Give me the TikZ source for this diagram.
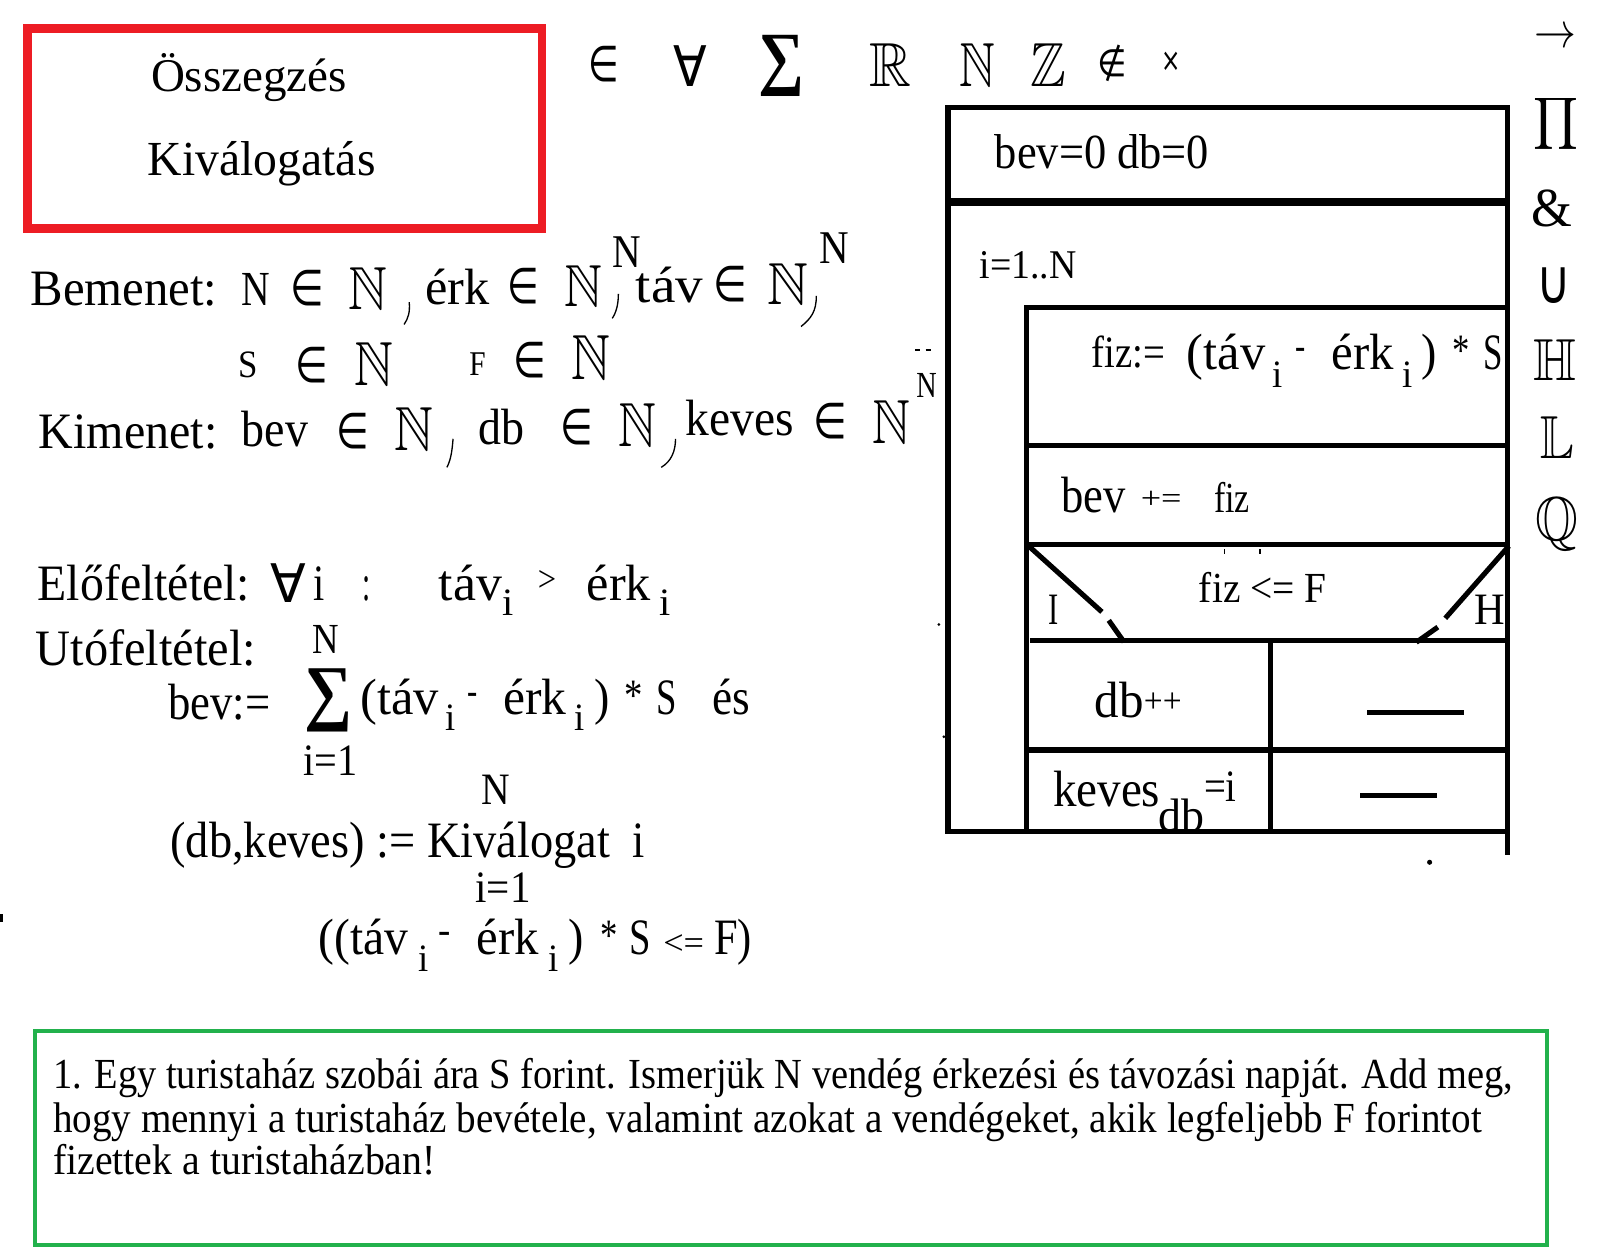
\documentclass[tikz,border=0pt]{standalone}
\usepackage{amssymb}
\usepackage{graphicx}
\usepackage{fontspec}
\setmainfont{Liberation Serif}
\newfontfamily\dv{DejaVu Sans}
\definecolor{pred}{HTML}{ED1C24}
\definecolor{pgreen}{HTML}{22B14C}
\newcommand\TX[5]{\node[txt] (#1) at (#2) {\resizebox{#4pt}{\height}{\fontsize{#3pt}{#3pt}\selectfont #5}};}
\newcommand\SY[5]{\node[sym] (#1) at (#2) {\resizebox*{#3pt}{#4pt}{#5}};}
\newcommand\bsum{{\bfseries ∑}}
\newcommand\ein{{\dv ∈}}
\newcommand\fa{{\dv ∀}}
\tikzset{
 txt/.style={anchor=base west, inner sep=0pt, outer sep=0pt},
 sym/.style={anchor=south west, inner sep=0pt, outer sep=0pt},
 nsd/.style={line width=5pt, line cap=rect},
 squig/.style={line width=1.3pt},
}
\begin{document}
\begin{tikzpicture}[x=1pt,y=-1pt]
\useasboundingbox (0,0) rectangle (1568,1231);
\fill[white] (0,0) rectangle (1568,1231);
% red box
\draw[pred, line width=8pt] (27,28) rectangle (531,224);
\TX{osz}{148,90}{46}{192}{Összegzés}
\TX{kiv}{145,172}{48}{223}{Kiválogatás}
% top symbols
\SY{s1}{577,80}{30}{35}{\ein}
\SY{s2}{660,85}{33}{40}{\fa}
\SY{s3}{743,95}{45}{60}{\bsum}
\SY{s4}{852,85}{41}{42}{$\mathbb{R}$}
\SY{s5}{940,85}{35}{42}{$\mathbb{N}$}
\SY{s6}{1010,85}{35}{42}{$\mathbb{Z}$}
\SY{s7}{1076,80}{29}{36}{{\dv ∉}}
\SY{s8}{1138,70}{19}{19}{{\dv ×}}
\SY{s9}{1504,47}{41}{18}{$\rightarrow$}
\SY{s10}{1503,150}{44}{57}{$\displaystyle\prod$}
\TX{s11}{1501,222}{54}{40}{\&}
\SY{s12}{1506,297}{34}{35}{{\dv ∪}}
\SY{s13}{1503,373}{42}{40}{$\mathbb{H}$}
\SY{s14}{1510,449}{33}{41}{$\mathbb{L}$}
\SY{s15}{1505,540}{42}{52}{$\mathbb{Q}$}
% Bemenet
\TX{bem}{30,299}{50}{183}{Bemenet:}
\TX{b1}{237,299}{48}{28}{N}
\SY{b2}{285,300}{33}{35}{\ein}
\SY{b3}{342,303}{38}{41}{$\mathbb{N}$}
\TX{b4}{417,298}{50}{63}{érk}
\SY{b5}{497,298}{31}{35}{\ein}
\SY{b6}{553,300}{37}{40}{$\mathbb{N}$}
\TX{b7}{600,262}{46}{28}{N}
\TX{b8}{623,296}{50}{66}{táv}
\SY{b9}{699,296}{33}{35}{\ein}
\SY{b10}{752,298}{40}{40}{$\mathbb{N}$}
\TX{b11}{803,258}{46}{29}{N}
\draw[squig] (401,296) .. controls (402,306) and (400,312) .. (396,318);
\draw[squig] (606,288) .. controls (606,298) and (604,306) .. (600,312);
\draw[squig] (800,290) .. controls (800,305) and (795,312) .. (785,320);
% row 2
\TX{c1}{234,370}{38}{19}{S}
\SY{c2}{290,375}{32}{35}{\ein}
\SY{c3}{347,378}{38}{42}{$\mathbb{N}$}
\TX{c4}{460,368}{34}{16}{F}
\SY{c5}{503,370}{32}{35}{\ein}
\SY{c6}{560,372}{38}{43}{$\mathbb{N}$}
\draw[line width=1.5pt] (897,343) -- (902,343) (907,343) -- (912,343);
% Kimenet
\TX{kim}{38,440}{50}{175}{Kimenet:}
\TX{k1}{237,438}{50}{65}{bev}
\SY{k2}{330,440}{32}{35}{\ein}
\SY{k3}{387,441}{38}{42}{$\mathbb{N}$}
\TX{k4}{469,436}{50}{45}{db}
\SY{k5}{549,436}{32}{35}{\ein}
\SY{k6}{606,438}{37}{42}{$\mathbb{N}$}
\TX{k7}{672,427}{50}{106}{keves}
\SY{k8}{797,430}{33}{35}{\ein}
\SY{k9}{855,435}{37}{42}{$\mathbb{N}$}
\TX{k10}{898,390}{36}{20}{N}
\draw[squig] (444,430) .. controls (443,442) and (442,450) .. (438,458);
\draw[squig] (662,430) .. controls (662,442) and (658,452) .. (648,458);
% Elofeltetel
\TX{elo}{37,588}{50}{208}{Előfeltétel:}
\SY{e1}{265,590}{35}{38}{\fa}
\TX{e2}{307,588}{50}{11}{i}
\TX{e3}{355,588}{50}{8}{:}
\TX{e4}{430,588}{50}{62}{táv}
\TX{e5}{492,603}{38}{11}{i}
\TX{e6}{527,580}{36}{18}{>}
\TX{e7}{575,588}{50}{63}{érk}
\TX{e8}{646,603}{38}{11}{i}
% Utofeltetel
\TX{uto}{35,652}{50}{216}{Utófeltétel:}
\TX{u1}{306,640}{42}{26}{N}
\TX{u2}{165,705}{50}{100}{bev:=}
\SY{u3}{298,717}{47}{62}{\bsum}
\TX{u4}{353,700}{50}{77}{(táv}
\TX{u5}{437,716}{38}{10}{i}
\TX{u6}{458,690}{40}{10}{-}
\TX{u7}{493,700}{50}{62}{érk}
\TX{u8}{563,716}{38}{10}{i}
\TX{u9}{583,700}{50}{15}{)}
\TX{u10}{612,696}{44}{18}{*}
\TX{u11}{643,700}{50}{20}{S}
\TX{u12}{698,700}{50}{37}{és}
\TX{u13}{297,760}{44}{53}{i=1}
\TX{u14}{472,788}{44}{28}{N}
\TX{u15}{167,840}{50}{431}{(db,keves) := Kiválogat}
\TX{u16}{620,840}{50}{12}{i}
\TX{u17}{466,884}{44}{54}{i=1}
\TX{u18}{312,935}{50}{88}{((táv}
\TX{u19}{410,952}{38}{10}{i}
\TX{u20}{430,925}{40}{12}{-}
\TX{u21}{467,935}{50}{61}{érk}
\TX{u22}{538,952}{38}{10}{i}
\TX{u23}{557,935}{50}{15}{)}
\TX{u24}{588,931}{44}{17}{*}
\TX{u25}{617,935}{50}{21}{S}
\TX{u26}{650,935}{34}{40}{<=}
\TX{u27}{700,935}{50}{37}{F)}
% NSD
\draw[nsd] (929,105) -- (1477,105);
\draw[line width=8pt] (929,198) -- (1479,198);
\draw[nsd] (929,105) -- (929,815);
\draw[nsd] (1477,105) -- (1477,835);
\draw[nsd] (1006,301) -- (1477,301);
\draw[nsd] (1006,301) -- (1006,815);
\draw[nsd] (1006,437) -- (1474,437);
\draw[nsd] (1006,534) -- (1477,534);
\draw[nsd] (1008,535) -- (1078,598);
\draw[nsd] (1088,610) -- (1100,627);
\draw[nsd] (1477,537) -- (1418,604);
\draw[nsd] (1407,616) -- (1390,628);
\draw[nsd] (1012,628) -- (1477,628);
\draw[nsd] (1245,628) -- (1245,815);
\draw[nsd] (1008,735) -- (1477,735);
\draw[nsd] (929,815) -- (1477,815);
\draw[nsd] (1342,698) -- (1432,698);
\draw[nsd] (1335,780) -- (1406,780);
\fill (1401,845) circle (2.5);
\fill (920,612) circle (1.5);
\fill (925,722) circle (1.5);
\fill (0,896) rectangle (3,904);
\draw[line width=1.5pt] (1200,538) -- (1200,543) (1235,538) -- (1235,543);
\TX{n1}{975,165}{48}{210}{bev=0 db=0}
\TX{n2}{960,273}{40}{95}{i=1..N}
\TX{n3}{1070,360}{44}{72}{fiz:=}
\TX{n4}{1163,362}{50}{77}{(táv}
\TX{n5}{1247,380}{38}{10}{i}
\TX{n6}{1270,352}{40}{10}{-}
\TX{n7}{1305,362}{50}{61}{érk}
\TX{n8}{1374,380}{38}{10}{i}
\TX{n9}{1393,362}{50}{15}{)}
\TX{n10}{1423,358}{44}{17}{*}
\TX{n11}{1454,362}{50}{19}{S}
\TX{n12}{1040,502}{50}{63}{bev}
\TX{n13}{1118,498}{30}{40}{+=}
\TX{n14}{1190,502}{42}{35}{fiz}
\TX{n15}{1175,590}{42}{125}{fiz <= F}
\TX{n16}{1028,612}{44}{10}{I}
\TX{n17}{1445,612}{44}{30}{H}
\TX{n18}{1073,703}{50}{48}{db}
\TX{n19}{1121,698}{34}{37}{++}
\TX{n20}{1032,790}{50}{105}{keves}
\TX{n21}{1135,815}{46}{45}{db}
\TX{n22}{1180,785}{44}{32}{=i}
% green box
\draw[pgreen, line width=4pt] (34,1010) rectangle (1516,1220);
\TX{g1}{52,1067}{42}{1431}{1. Egy turistaház szobái ára S forint. Ismerjük N vendég érkezési és távozási napját. Add meg,}
\TX{g2}{52,1110}{42}{1400}{hogy mennyi a turistaház bevétele, valamint azokat a vendégeket, akik legfeljebb F forintot}
\TX{g3}{52,1151}{42}{375}{fizettek a turistaházban!}
\end{tikzpicture}
\end{document}
